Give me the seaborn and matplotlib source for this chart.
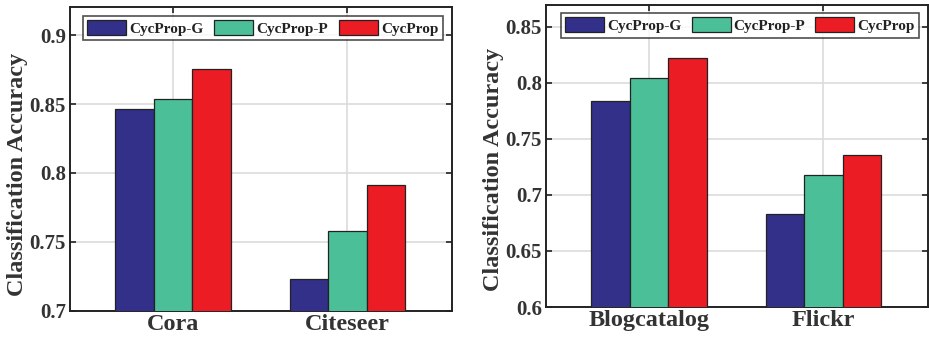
import matplotlib
matplotlib.use("Agg")
import matplotlib.pyplot as plt
import seaborn as sns
import pandas as pd
from matplotlib.patches import Patch

methods = ["CycProp-G", "CycProp-P", "CycProp"]
colors = ["#33308A", "#4BBF98", "#EC1C24"]

left_datasets = ["Cora", "Citeseer"]
left_g = [0.8467, 0.7229]
left_p = [0.8537, 0.7581]
left_c = [0.8754, 0.7910]
left_ticks = [0.7, 0.75, 0.8, 0.85, 0.9]
left_ticklabels = ["0.7", "0.75", "0.8", "0.85", "0.9"]

right_datasets = ["Blogcatalog", "Flickr"]
right_g = [0.7835, 0.6828]
right_p = [0.8046, 0.7176]
right_c = [0.8224, 0.7354]
right_ticks = [0.6, 0.65, 0.7, 0.75, 0.8, 0.85]
right_ticklabels = ["0.6", "0.65", "0.7", "0.75", "0.8", "0.85"]

ylabel = "Classification Accuracy"

sns.set_theme(style="white")
plt.rcParams["font.family"] = ["Liberation Serif", "DejaVu Serif"]
plt.rcParams["font.weight"] = "bold"

fig = plt.figure(figsize=(9.3, 3.41), dpi=100)
ax1 = fig.add_axes([0.0753, 0.088, 0.4108, 0.8915])
ax2 = fig.add_axes([0.5871, 0.0997, 0.4108, 0.8856])

txt = "#333333"

def draw(ax, datasets, g, p, c, ticks, ticklabels, ylim, leg_box, label_y):
    rows = []
    for d, a, b, e in zip(datasets, g, p, c):
        rows.append((d, methods[0], a))
        rows.append((d, methods[1], b))
        rows.append((d, methods[2], e))
    df = pd.DataFrame(rows, columns=["dataset", "method", "acc"])
    sns.barplot(data=df, x="dataset", y="acc", hue="method", hue_order=methods,
                palette=colors, width=0.663, edgecolor="#222222", linewidth=0.9,
                saturation=1, legend=False, ax=ax, zorder=3)
    ax.set_xlim(-0.592, 1.6)
    ax.set_ylim(*ylim)
    ax.set_yticks(ticks)
    ax.set_yticklabels(ticklabels)
    ax.set_xlabel("")
    ax.set_ylabel(ylabel, fontsize=17.5, fontweight="bold", color=txt, labelpad=1)
    ax.yaxis.label.set_y(label_y)
    ax.grid(True, color="#dcdcdc", linewidth=1.2, zorder=0)
    ax.set_axisbelow(True)
    ax.tick_params(axis="y", direction="in", length=4, width=1.2, colors="#222222",
                   labelcolor=txt, labelsize=15, right=True, left=True, pad=3)
    ax.tick_params(axis="x", direction="in", length=4, width=1.2, colors="#222222",
                   labelcolor=txt, labelsize=17.5, top=True, bottom=True, pad=2)
    for lbl in ax.get_xticklabels() + ax.get_yticklabels():
        lbl.set_fontweight("bold")
    for s in ax.spines.values():
        s.set_visible(True)
        s.set_color("#222222")
        s.set_linewidth(1.4)
    handles = [Patch(facecolor=col, edgecolor="#222222", linewidth=0.9, label=m)
               for m, col in zip(methods, colors)]
    leg = ax.legend(handles=handles, ncol=3, loc="center", bbox_to_anchor=leg_box,
                    mode="expand", frameon=True, fancybox=False, fontsize=11,
                    handlelength=2.55, handleheight=1.1, handletextpad=0.2,
                    columnspacing=0.2, borderpad=0.3, borderaxespad=0)
    leg.get_frame().set_edgecolor("#222222")
    leg.get_frame().set_linewidth(1.2)
    for t in leg.get_texts():
        t.set_fontweight("bold")
        t.set_color("#222222")

draw(ax1, left_datasets, left_g, left_p, left_c, left_ticks, left_ticklabels,
     (0.7, 0.9203), (0.033, 0.885, 0.943, 0.092), 0.45)
draw(ax2, right_datasets, right_g, right_p, right_c, right_ticks, right_ticklabels,
     (0.6, 0.8693), (0.0385, 0.89, 0.9385, 0.086), 0.457)

fig.savefig("out.png", dpi=100)
